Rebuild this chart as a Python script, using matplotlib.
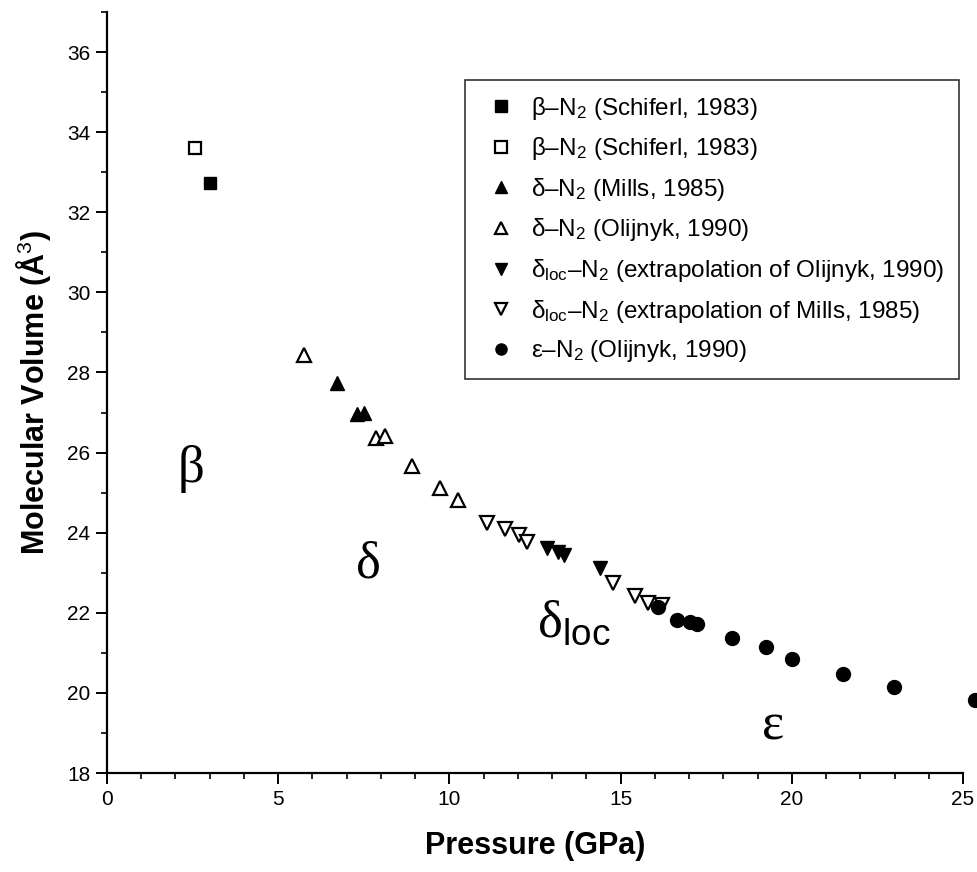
import matplotlib
matplotlib.use("Agg")
import matplotlib.pyplot as plt
from matplotlib.ticker import MultipleLocator

plt.rcParams['font.family'] = ['Liberation Sans', 'DejaVu Sans']
plt.rcParams['mathtext.fontset'] = 'custom'
plt.rcParams['mathtext.rm'] = 'Liberation Sans'
plt.rcParams['mathtext.it'] = 'Liberation Sans:italic'
plt.rcParams['mathtext.bf'] = 'Liberation Sans:bold'

# ---- data (pressure GPa, molecular volume A^3) ----
beta_filled_p = [3.00]
beta_filled_v = [32.73]
beta_open_p = [2.57]
beta_open_v = [33.60]
delta_mills_p = [6.71, 7.29, 7.50]
delta_mills_v = [27.74, 26.96, 26.99]
delta_olij_p = [5.75, 7.85, 8.11, 8.90, 9.74, 10.24]
delta_olij_v = [28.44, 26.36, 26.41, 25.67, 25.12, 24.82]
dloc_olij_p = [12.84, 13.16, 13.36, 14.41]
dloc_olij_v = [23.62, 23.52, 23.44, 23.12]
dloc_mills_p = [11.09, 11.61, 12.02, 12.28, 14.79, 15.43, 15.81, 16.22]
dloc_mills_v = [24.24, 24.09, 23.94, 23.77, 22.75, 22.42, 22.25, 22.20]
eps_p = [16.10, 16.66, 17.04, 17.24, 18.26, 19.25, 20.01, 21.50, 22.99, 25.35]
eps_v = [22.15, 21.82, 21.77, 21.72, 21.37, 21.15, 20.85, 20.47, 20.15, 19.82]

labels = [
    'β–N$_2$ (Schiferl, 1983)',
    'β–N$_2$ (Schiferl, 1983)',
    'δ–N$_2$ (Mills, 1985)',
    'δ–N$_2$ (Olijnyk, 1990)',
    'δ$_{\\mathrm{loc}}$–N$_2$ (extrapolation of Olijnyk, 1990)',
    'δ$_{\\mathrm{loc}}$–N$_2$ (extrapolation of Mills, 1985)',
    'ε–N$_2$ (Olijnyk, 1990)',
]

xticks = [0, 5, 10, 15, 20, 25]
yticks = [18, 20, 22, 24, 26, 28, 30, 32, 34, 36]

W, H = 977, 872
fig = plt.figure(figsize=(W / 100, H / 100), dpi=100)
ax = fig.add_axes([107 / W, 1 - 773 / H, (963 - 107) / W, (773 - 12) / H])

ms_sq = 8.5
ms_tri = 10
ms_c = 10
kw = dict(linestyle='none', clip_on=False, zorder=3)
ax.plot(beta_filled_p, beta_filled_v, marker='s', ms=ms_sq, mfc='black', mec='black', label=labels[0], **kw)
ax.plot(beta_open_p, beta_open_v, marker='s', ms=ms_sq, mfc='white', mec='black', mew=1.6, label=labels[1], **kw)
ax.plot(delta_mills_p, delta_mills_v, marker='^', ms=ms_tri, mfc='black', mec='black', label=labels[2], **kw)
ax.plot(delta_olij_p, delta_olij_v, marker='^', ms=ms_tri, mfc='white', mec='black', mew=1.6, label=labels[3], **kw)
ax.plot(dloc_olij_p, dloc_olij_v, marker='v', ms=ms_tri, mfc='black', mec='black', label=labels[4], **kw)
ax.plot(dloc_mills_p, dloc_mills_v, marker='v', ms=ms_tri, mfc='white', mec='black', mew=1.6, label=labels[5], **kw)
ax.plot(eps_p, eps_v, marker='o', ms=ms_c, mfc='black', mec='black', label=labels[6], **kw)

ax.set_xlim(0, 25)
ax.set_ylim(18, 37)
ax.set_xticks(xticks)
ax.set_yticks(yticks)
ax.xaxis.set_minor_locator(MultipleLocator(1))
ax.yaxis.set_minor_locator(MultipleLocator(1))
for s in ['top', 'right']:
    ax.spines[s].set_visible(False)
for s in ['left', 'bottom']:
    ax.spines[s].set_linewidth(1.6)
ax.tick_params(which='major', direction='out', length=8, width=1.4, labelsize=15, pad=4)
ax.tick_params(which='minor', direction='out', length=4, width=1.2)

ax.set_xlabel('Pressure (GPa)', fontsize=22, fontweight='bold', labelpad=16)
ax.set_ylabel('Molecular Volume (Å$^3$)', fontsize=22, fontweight='bold', labelpad=10)

leg = ax.legend(loc='upper left', bbox_to_anchor=((465 - 107) / 856, (773 - 80) / 761),
                borderaxespad=0, fontsize=17.5, labelspacing=0.56,
                handletextpad=0.3, handlelength=1.8,
                borderpad=0.6, fancybox=False, frameon=True, numpoints=1)
leg.get_frame().set_edgecolor('black')
leg.get_frame().set_linewidth(1.2)
for h in leg.legend_handles:
    h.set_markersize(8)

serif = ['Liberation Serif', 'DejaVu Serif']
ax.text(2.45, 25.6, 'β', fontsize=38, family=serif, ha='center', va='center')
ax.text(7.64, 23.2, 'δ', fontsize=38, family=serif, ha='center', va='center')
ax.text(12.55, 21.75, 'δ$_{\\mathrm{loc}}$', fontsize=38, family=serif, ha='left', va='center')
ax.text(19.46, 19.15, 'ε', fontsize=38, family=serif, ha='center', va='center')

fig.savefig('out.png', dpi=100, facecolor='white')
